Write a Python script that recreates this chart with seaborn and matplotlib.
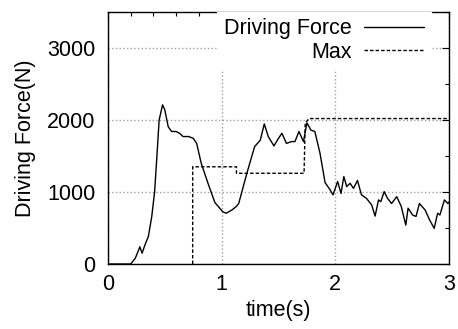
import matplotlib
matplotlib.use("Agg")
import matplotlib.pyplot as plt
from matplotlib.ticker import MultipleLocator
import pandas as pd
import seaborn as sns

# driving force trace
time_force = [0.0, 0.20, 0.24, 0.27, 0.28, 0.30, 0.325, 0.355, 0.385, 0.41,
              0.43, 0.45, 0.48, 0.50, 0.53, 0.56, 0.60, 0.63, 0.66, 0.71,
              0.75, 0.78, 0.82, 0.88, 0.94, 1.01, 1.04, 1.09, 1.13, 1.15,
              1.19, 1.23, 1.29, 1.34, 1.375, 1.41, 1.46, 1.50, 1.53, 1.57,
              1.615, 1.645, 1.68, 1.72, 1.75, 1.785, 1.82, 1.865, 1.91, 1.95,
              1.98, 2.02, 2.05, 2.075, 2.10, 2.13, 2.16, 2.195, 2.23, 2.275,
              2.32, 2.35, 2.38, 2.40, 2.43, 2.46, 2.495, 2.54, 2.58, 2.62,
              2.64, 2.68, 2.71, 2.74, 2.79, 2.83, 2.87, 2.90, 2.92, 2.96,
              2.99, 3.00]
force = [0, 0, 80, 195, 240, 150, 265, 380, 660, 1000,
         1490, 2000, 2210, 2140, 1905, 1840, 1840, 1815, 1770, 1770,
         1745, 1675, 1400, 1120, 855, 725, 705, 750, 800, 840,
         1075, 1305, 1630, 1720, 1945, 1770, 1640, 1745, 1815, 1675,
         1700, 1700, 1840, 1700, 1960, 1860, 1840, 1540, 1130, 1040,
         960, 1145, 980, 1215, 1075, 1120, 1050, 1160, 960, 910,
         820, 665, 890, 865, 1005, 910, 840, 935, 800, 540,
         775, 680, 660, 840, 750, 610, 495, 705, 680, 890,
         840, 860]

# running max limit (step line)
time_max = [0.745, 0.745, 1.13, 1.13, 1.725, 1.735, 1.77, 3.0]
force_max = [0, 1350, 1350, 1260, 1260, 1960, 2020, 2020]

df_force = pd.DataFrame({"t": time_force, "F": force})
df_max = pd.DataFrame({"t": time_max, "F": force_max})

sns.set_style("white")
plt.rcParams["font.family"] = ["Liberation Sans", "DejaVu Sans"]
for key in ["text.color", "axes.labelcolor", "xtick.color", "ytick.color"]:
    plt.rcParams[key] = "black"

fig = plt.figure(figsize=(4.58, 3.29), dpi=100)
ax = fig.add_axes([0.2358, 0.1976, 0.7445, 0.766])

sns.lineplot(data=df_force, x="t", y="F", ax=ax, color="black", lw=1.0,
             estimator=None, sort=False, label="Driving Force")
sns.lineplot(data=df_max, x="t", y="F", ax=ax, color="black", lw=1.0,
             estimator=None, sort=False, label="Max")
ax.lines[1].set_dashes([2.5, 1.5])

ax.set_xlim(0, 3)
ax.set_ylim(0, 3500)
ax.xaxis.set_major_locator(MultipleLocator(1))
ax.xaxis.set_minor_locator(MultipleLocator(0.2))
ax.yaxis.set_minor_locator(MultipleLocator(500))
ax.set_yticks([0, 1000, 2000, 3000])

ax.grid(True, which="major", color="#a0a0a0", linestyle=":", lw=1.0)
ax.tick_params(which="both", direction="in", top=True, right=True,
               labelsize=15.5)
ax.tick_params(axis="y", pad=9)
ax.tick_params(axis="x", pad=7)
ax.tick_params(which="major", length=5, width=0.8)
ax.tick_params(which="minor", length=3, width=0.8)
for s in ax.spines.values():
    s.set_color("black")
    s.set_linewidth(1.0)

ax.set_xlabel("time(s)", fontsize=15.5, labelpad=4)
ax.set_ylabel("Driving Force(N)", fontsize=15.5, labelpad=8)

leg = ax.legend(loc="upper right", bbox_to_anchor=(0.947, 1.0), markerfirst=False,
                frameon=True, fancybox=False, framealpha=1, facecolor="white",
                edgecolor="white", fontsize=15.5, handlelength=2.8,
                handletextpad=0.6, labelspacing=0.1, borderpad=0.3,
                borderaxespad=0.0)
leg._legend_box.align = "right"
for line in leg.get_lines():
    line.set_linewidth(1.0)

fig.savefig("out.png", dpi=100)
